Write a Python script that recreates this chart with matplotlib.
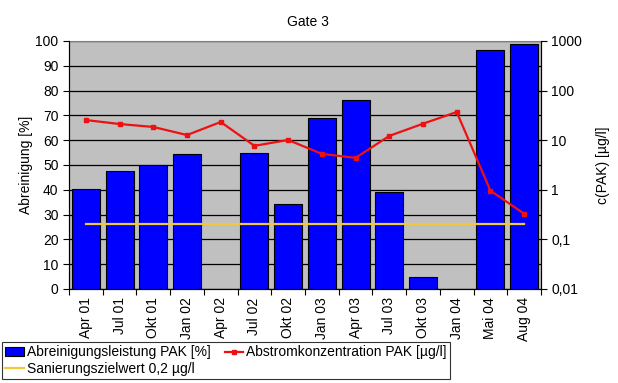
import numpy as np
import matplotlib
matplotlib.use("Agg")
import matplotlib.pyplot as plt
from matplotlib.ticker import FixedLocator, NullLocator

plt.rcParams["font.family"] = ["Liberation Sans", "DejaVu Sans"]

# data
quarters = ["Apr 01", "Jul 01", "Okt 01", "Jan 02", "Apr 02", "Jul 02", "Okt 02",
            "Jan 03", "Apr 03", "Jul 03", "Okt 03", "Jan 04", "Mai 04", "Aug 04"]
removal_pct = [40.5, 47.5, 50.0, 54.3, None, 54.7, 34.3,
               68.8, 76.2, 39.0, 4.7, None, 96.2, 98.8]
outflow_conc = [25.5, 21.2, 18.5, 12.7, 23.3, 7.7, 10.1,
                5.3, 4.4, 12.2, 21.5, 37.0, 0.96, 0.33]
target_value = 0.2

BAR_BLUE = "#0000ff"
LINE_RED = "#ee1111"
TARGET_YEL = "#f0c83c"
PLOT_BG = "#c0c0c0"
FS = 10

fig = plt.figure(figsize=(6.18, 3.83), dpi=100)
ax = fig.add_axes([69 / 618, 1 - 289 / 383, 472 / 618, 248 / 383])
ax2 = ax.twinx()

x = np.arange(len(quarters))
bx = [i for i, v in zip(x, removal_pct) if v is not None]
bv = [v for v in removal_pct if v is not None]
bars = ax.bar(bx, bv, width=0.83, color=BAR_BLUE, edgecolor="black",
              linewidth=0.8, zorder=3)

ax.set_facecolor(PLOT_BG)
ax.set_xlim(-0.5, len(quarters) - 0.5)
ax.set_ylim(0, 100)
ax.yaxis.set_major_locator(FixedLocator(range(0, 101, 10)))
ax.grid(axis="y", color="black", linewidth=0.9)
ax.set_axisbelow(True)
ax.set_xticks(x)
ax.set_xticklabels(quarters, rotation=90, fontsize=FS)
ax.xaxis.set_minor_locator(FixedLocator(np.arange(-0.5, len(quarters), 1.0)))
ax.tick_params(axis="x", which="major", length=0, pad=6)
ax.tick_params(axis="x", which="minor", length=4, width=0.8, direction="out")
ax.tick_params(axis="y", labelsize=FS, length=4, width=0.8, direction="out")
for s in ("left", "bottom"):
    ax.spines[s].set_color("black")
ax.spines["top"].set_color("#808080")
ax.set_ylabel("Abreinigung [%]", fontsize=FS, labelpad=2)

(tline,) = ax2.plot([x[0], x[-1]], [target_value, target_value], color=TARGET_YEL,
                    linewidth=1.6, zorder=4)
(rline,) = ax2.plot(x, outflow_conc, color=LINE_RED, linewidth=1.6, marker="s",
                    markersize=3.2, zorder=5)
ax2.set_yscale("log")
ax2.set_ylim(0.01, 1000)
ax2.yaxis.set_major_locator(FixedLocator([0.01, 0.1, 1, 10, 100, 1000]))
ax2.yaxis.set_minor_locator(NullLocator())
ax2.set_yticklabels(["0,01", "0,1", "1", "10", "100", "1000"])
ax2.tick_params(axis="y", labelsize=FS, length=4, width=0.8, direction="out")
ax2.spines["right"].set_color("black")
ax2.spines["top"].set_visible(False)
ax2.set_ylabel("c(PAK) [µg/l]", fontsize=FS, labelpad=10)

fig.text(308 / 618, 1 - 22 / 383, "Gate 3", ha="center", va="center", fontsize=FS)

leg = fig.legend([bars, tline, rline],
                 ["Abreinigungsleistung PAK [%]", "Sanierungszielwert 0,2 µg/l",
                  "Abstromkonzentration PAK [µg/l]"],
                 ncol=2, loc="lower left",
                 bbox_to_anchor=(2 / 618, 4 / 383),
                 fontsize=FS, frameon=True, fancybox=False, borderaxespad=0,
                 handlelength=1.3, handleheight=0.55, handletextpad=0.25,
                 labelspacing=0.15, borderpad=0.25, columnspacing=1.0)
leg.get_frame().set_edgecolor("black")
leg.get_frame().set_linewidth(0.8)

fig.savefig("out.png", dpi=100)
